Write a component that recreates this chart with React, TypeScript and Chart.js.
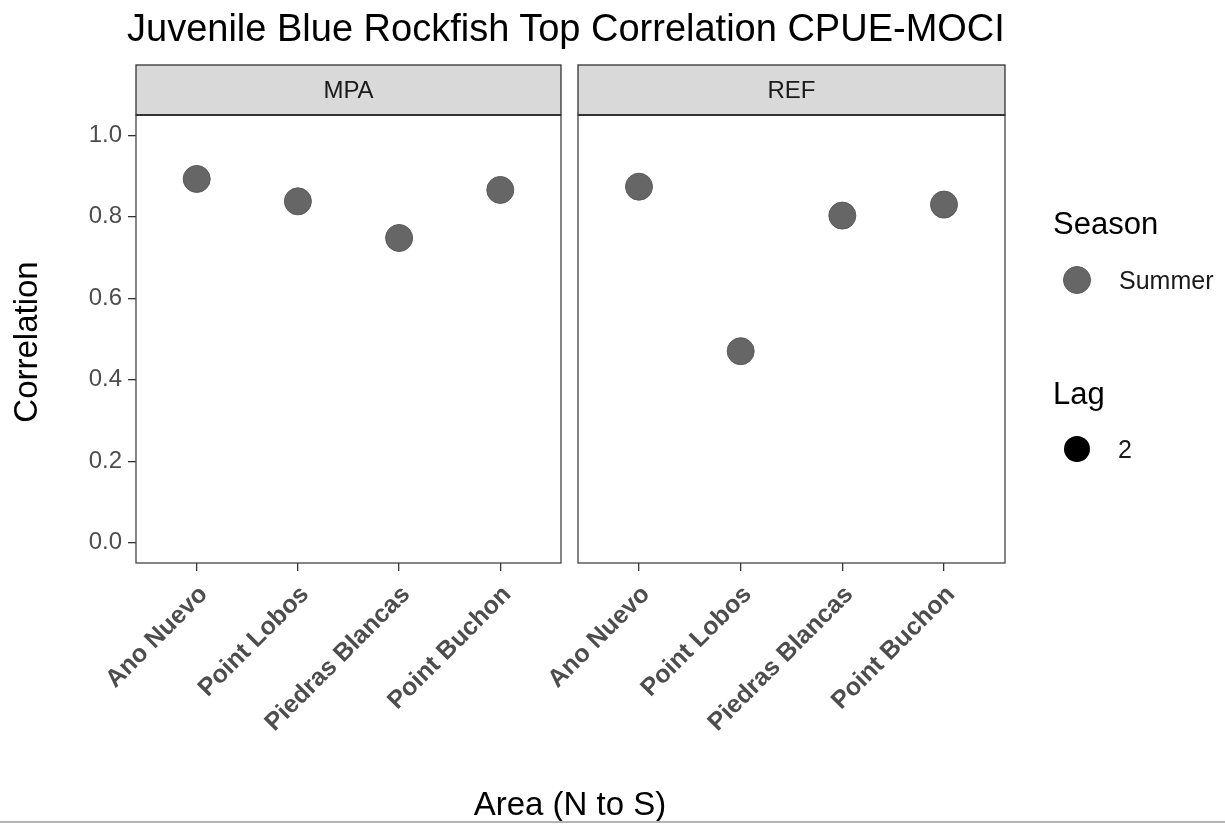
import React, { useEffect, useRef } from "react";
import { Chart, registerables } from "chart.js";

Chart.register(...registerables);

const areas = ["Ano Nuevo", "Point Lobos", "Piedras Blancas", "Point Buchon"];
const mpaCorrelation = [0.893, 0.838, 0.748, 0.866];
const refCorrelation = [0.874, 0.47, 0.803, 0.83];
const yTicks = [0, 0.2, 0.4, 0.6, 0.8, 1.0];
const panelNames = ["MPA", "REF"];

const FONT = "'Liberation Sans', Arial, Helvetica, sans-serif";
const W = 1225;
const H = 824;

const panelPlugin = {
  id: "panelDeco",
  afterDraw(chart: any) {
    const opts = chart.options.plugins.panelDeco || {};
    const { left, top, right, bottom } = chart.chartArea;
    const ctx = chart.ctx;
    ctx.save();
    const stripTop = 65;
    ctx.fillStyle = "#D9D9D9";
    ctx.fillRect(left, stripTop, right - left, top - stripTop);
    ctx.strokeStyle = "#333333";
    ctx.lineWidth = 1.3;
    ctx.strokeRect(left, stripTop, right - left, top - stripTop);
    ctx.fillStyle = "#1A1A1A";
    ctx.font = `24px ${FONT}`;
    ctx.textAlign = "center";
    ctx.textBaseline = "alphabetic";
    ctx.fillText(opts.label || "", (left + right) / 2, 98);
    ctx.strokeStyle = "#444444";
    ctx.lineWidth = 1.3;
    ctx.strokeRect(left, top, right - left, bottom - top);
    ctx.beginPath();
    ctx.strokeStyle = "#333333";
    ctx.lineWidth = 2;
    ctx.moveTo(left, top);
    ctx.lineTo(right, top);
    ctx.stroke();
    ctx.restore();
  },
};

function makeConfig(values: number[], label: string, showY: boolean, padLeft: number, padRight: number) {
  return {
    type: "scatter" as const,
    data: {
      datasets: [
        {
          label: label,
          data: values.map((v, i) => ({ x: i, y: v })),
          pointRadius: 13.5,
          pointHoverRadius: 13.5,
          pointBackgroundColor: "#666666",
          pointBorderColor: "#5a5a5a",
          pointBorderWidth: 1,
          showLine: false,
        },
      ],
    },
    options: {
      animation: false as const,
      responsive: false,
      devicePixelRatio: 1,
      layout: { padding: { top: 115, left: padLeft, right: padRight, bottom: 0 } },
      plugins: {
        legend: { display: false },
        tooltip: { enabled: false },
        title: { display: false },
        panelDeco: { label },
      },
      scales: {
        x: {
          type: "linear" as const,
          min: -0.6,
          max: 3.6,
          afterBuildTicks: (scale: any) => {
            scale.ticks = areas.map((_, i) => ({ value: i }));
          },
          afterFit: (scale: any) => {
            scale.height = H - 563;
          },
          grid: { drawOnChartArea: false, drawTicks: true, tickLength: 8, color: "#333333", lineWidth: 1.3 },
          border: { display: false },
          ticks: {
            autoSkip: false,
            maxRotation: 45,
            minRotation: 45,
            padding: 9,
            labelOffset: 7,
            color: "#4D4D4D",
            font: { family: FONT, size: 25, weight: "bold" as const },
            callback: (v: any) => areas[Math.round(Number(v))] ?? "",
          },
        },
        y: {
          type: "linear" as const,
          display: showY,
          min: -0.05,
          max: 1.05,
          afterBuildTicks: (scale: any) => {
            scale.ticks = yTicks.map((v) => ({ value: v }));
          },
          afterFit: (scale: any) => {
            scale.width = showY ? 136 : 0;
          },
          grid: { drawOnChartArea: false, drawTicks: true, tickLength: 8, color: "#333333", lineWidth: 1.3 },
          border: { display: false },
          ticks: {
            padding: 6,
            color: "#4D4D4D",
            font: { family: FONT, size: 24 },
            callback: (v: any) => Number(v).toFixed(1),
          },
        },
      },
    },
    plugins: [panelPlugin],
  };
}

export default function App() {
  const ref1 = useRef<HTMLCanvasElement | null>(null);
  const ref2 = useRef<HTMLCanvasElement | null>(null);

  useEffect(() => {
    const c1 = new Chart(ref1.current as HTMLCanvasElement, makeConfig(mpaCorrelation, panelNames[0], true, 0, W - 561) as any);
    const c2 = new Chart(ref2.current as HTMLCanvasElement, makeConfig(refCorrelation, panelNames[1], false, 578, W - 1005) as any);
    return () => {
      c1.destroy();
      c2.destroy();
    };
  }, []);

  const canvasStyle: React.CSSProperties = { position: "absolute", left: 0, top: 0, width: W, height: H };

  return (
    <div style={{ position: "fixed", left: 0, top: 0, width: W, height: H, background: "#ffffff", overflow: "hidden" }}>
      <canvas ref={ref1} width={W} height={H} style={canvasStyle} />
      <canvas ref={ref2} width={W} height={H} style={canvasStyle} />
      <svg width={W} height={H} style={{ position: "absolute", left: 0, top: 0, pointerEvents: "none" }}>
        <g fontFamily={FONT}>
          <text x={127} y={41} fontSize={38} fill="#000">Juvenile Blue Rockfish Top Correlation CPUE-MOCI</text>
          <text x={570} y={815} fontSize={33} fill="#000" textAnchor="middle">Area (N to S)</text>
          <text x={0} y={0} fontSize={33} fill="#000" textAnchor="middle" transform="translate(37,342) rotate(-90)">Correlation</text>
          <text x={1053} y={234} fontSize={31} fill="#000">Season</text>
          <circle cx={1077} cy={280} r={13.5} fill="#666666" stroke="#5a5a5a" strokeWidth={1} />
          <text x={1119} y={289} fontSize={25} fill="#1A1A1A">Summer</text>
          <text x={1053} y={404} fontSize={31} fill="#000">Lag</text>
          <circle cx={1077} cy={449} r={13} fill="#000000" />
          <text x={1118} y={458} fontSize={25} fill="#1A1A1A">2</text>
        </g>
        <rect x={0} y={821} width={W} height={2} fill="#b4b4b4" />
      </svg>
    </div>
  );
}
